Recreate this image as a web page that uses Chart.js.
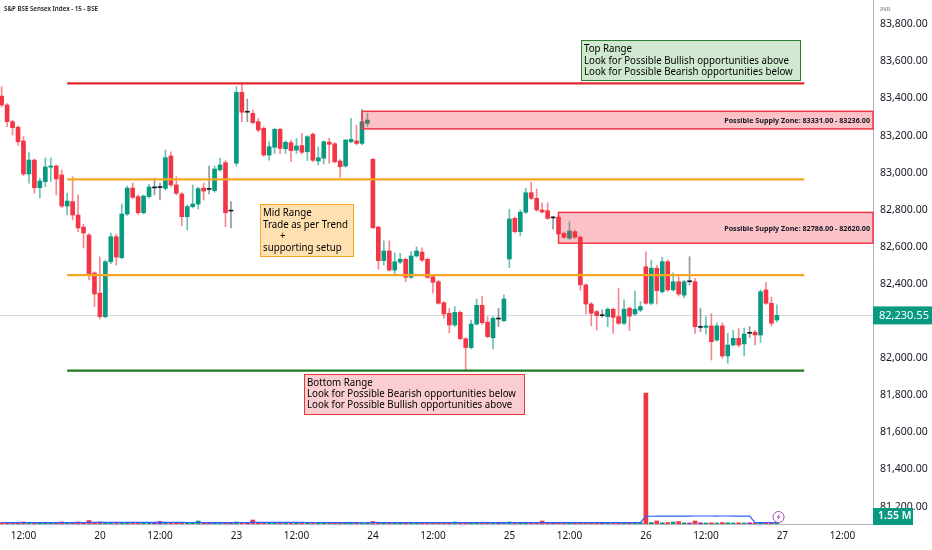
<!DOCTYPE html>
<html>
<head>
<meta charset="utf-8">
<script src="https://cdn.jsdelivr.net/npm/chart.js@4.4.1/dist/chart.umd.min.js"></script>
<style>
  html, body { margin: 0; padding: 0; background: #fff; }
  #wrap { width: 932px; height: 550px; }
</style>
</head>
<body>
<div id="wrap"><canvas id="chart" width="932" height="550"></canvas></div>
<script>
// 15 min bars, bar 0 = 19th 09:15, 25 bars per session
const firstBar = 7;
const opens = [
  83413, 83365, 83275, 83245, 83171, 82993, 83068, 82919, 82952, 83030,
  83036, 82988, 82820, 82844, 82772, 82707, 82664, 82459, 82351, 82224,
  82520, 82655, 82542, 82777, 82917, 82871, 82784, 82871, 82918, 82920,
  82916, 83090, 82934, 82885, 82763, 82817, 82831, 82917, 82910, 82903,
  83015, 83054, 82793, 83051, 83433, 83326, 83320, 83275, 83239, 83095,
  83137, 83234, 83129, 83162, 83122, 83146, 83113, 83207, 83063, 83078,
  83165, 83156, 83063, 83036, 83167, 83171, 83158, 83266, 83072, 82706,
  82526, 82578, 82475, 82518, 82533, 82436, 82551, 82572, 82533, 82439,
  82412, 82299, 82242, 82179, 82247, 82105, 82057, 82184, 82285, 82194,
  82110, 82211, 82202, 82535, 82754, 82682, 82787, 82892, 82862, 82799,
  82795, 82756, 82760, 82673, 82646, 82682, 82652, 82395, 82292, 82251,
  82229, 82224, 82264, 82224, 82188, 82269, 82238, 82259, 82493, 82296,
  82485, 82358, 82520, 82368, 82412, 82340, 82412, 82412, 82166, 82166,
  82174, 82098, 82174, 82012, 82071, 82107, 82077, 82134, 82140, 82125,
  82368, 82296, 82206
];
const highs = [
  83463, 83372, 83282, 83252, 83194, 83108, 83074, 82971, 83079, 83079,
  83042, 83015, 82890, 82978, 82880, 82723, 82672, 82466, 82547, 82529,
  82675, 82670, 82831, 82928, 82944, 82880, 82880, 82939, 82971, 82944,
  83122, 83113, 82978, 82893, 82826, 82934, 82922, 82943, 83036, 83036,
  83079, 83065, 82844, 83464, 83478, 83397, 83338, 83293, 83248, 83167,
  83240, 83240, 83171, 83176, 83185, 83212, 83200, 83215, 83140, 83172,
  83185, 83162, 83070, 83180, 83293, 83257, 83342, 83320, 83078, 82712,
  82633, 82633, 82569, 82565, 82540, 82574, 82601, 82595, 82540, 82445,
  82420, 82305, 82269, 82278, 82255, 82110, 82206, 82318, 82332, 82224,
  82224, 82269, 82341, 82803, 82760, 82799, 82916, 82948, 82912, 82838,
  82838, 82765, 82766, 82680, 82736, 82690, 82660, 82400, 82300, 82258,
  82260, 82272, 82270, 82377, 82314, 82275, 82362, 82305, 82574, 82529,
  82500, 82544, 82530, 82460, 82440, 82420, 82547, 82430, 82270, 82224,
  82240, 82190, 82190, 82134, 82150, 82160, 82162, 82170, 82150, 82368,
  82409, 82330, 82287
];
const lows = [
  83355, 83248, 83203, 83149, 82985, 82944, 82890, 82864, 82925, 82952,
  82880, 82812, 82772, 82745, 82682, 82594, 82422, 82278, 82211, 82216,
  82510, 82502, 82535, 82770, 82860, 82775, 82778, 82862, 82880, 82853,
  82905, 82925, 82880, 82713, 82691, 82810, 82804, 82853, 82885, 82895,
  83008, 82709, 82702, 83036, 83275, 83275, 83262, 83220, 83088, 83068,
  83104, 83101, 83104, 83059, 83104, 83100, 83065, 83060, 83041, 83047,
  83051, 83052, 82975, 83030, 83160, 83150, 83150, 83248, 82700, 82479,
  82502, 82470, 82454, 82510, 82412, 82430, 82545, 82520, 82430, 82350,
  82290, 82215, 82137, 82170, 82098, 81936, 82050, 82178, 82182, 82110,
  82050, 82170, 82195, 82488, 82675, 82659, 82780, 82855, 82792, 82782,
  82748, 82695, 82664, 82645, 82640, 82645, 82366, 82238, 82174, 82152,
  82220, 82170, 82134, 82182, 82180, 82148, 82232, 82250, 82290, 82288,
  82292, 82350, 82360, 82362, 82335, 82325, 82395, 82134, 82143, 82130,
  81990, 82092, 82000, 81973, 82065, 82060, 82012, 82110, 82071, 82085,
  82290, 82174, 82195
];
const closes = [
  83365, 83275, 83243, 83167, 82993, 83068, 82919, 82955, 83031, 83036,
  82966, 82820, 82847, 82772, 82702, 82675, 82454, 82346, 82224, 82520,
  82655, 82545, 82777, 82917, 82867, 82784, 82874, 82923, 82918, 82920,
  83081, 82934, 82889, 82763, 82817, 82831, 82914, 82901, 82910, 83020,
  83042, 82784, 82793, 83433, 83326, 83326, 83270, 83230, 83095, 83140,
  83234, 83131, 83164, 83119, 83144, 83110, 83194, 83067, 83081, 83167,
  83153, 83059, 83032, 83176, 83180, 83158, 83275, 83284, 82703, 82526,
  82578, 82475, 82520, 82534, 82436, 82551, 82578, 82529, 82436, 82409,
  82296, 82238, 82179, 82247, 82105, 82057, 82184, 82285, 82191, 82116,
  82215, 82211, 82319, 82750, 82682, 82787, 82892, 82862, 82799, 82788,
  82754, 82756, 82670, 82652, 82686, 82652, 82395, 82292, 82242, 82229,
  82229, 82264, 82220, 82188, 82264, 82227, 82264, 82278, 82296, 82485,
  82364, 82520, 82368, 82412, 82346, 82412, 82412, 82170, 82166, 82174,
  82089, 82174, 82012, 82071, 82107, 82071, 82130, 82134, 82125, 82358,
  82296, 82188, 82231
];
// volume, in the hidden volume axis units
const volumes = [
  1.5, 1.2, 1.5, 1.2, 2, 1.5, 1.2, 1.5, 1.2, 1,
  1.5, 2, 1.2, 1.5, 2, 1.5, 3.5, 1.5, 2, 1.5,
  1.2, 1.5, 1.2, 1.5, 1.2, 1, 1.2, 1.5, 1.2, 2.5,
  1.5, 1.2, 1.5, 1.2, 1, 1.5, 3, 1.5, 1.2, 1.5,
  1.2, 1.5, 1.2, 2, 1.5, 1.5, 4, 1.5, 1.2, 1.5,
  1.2, 1, 1.5, 1.2, 1.5, 1.2, 1, 1.2, 1.5, 1.2,
  1, 1.2, 1.5, 1.2, 1, 1.5, 1.2, 1.5, 2.5, 1.5,
  1.2, 1.5, 1.2, 1, 1.5, 1.2, 1.5, 1.2, 1, 1.5,
  1.2, 1.5, 1.2, 2, 1.5, 1.2, 1, 1.2, 1.5, 1.2,
  1.5, 1.2, 1, 2, 1.5, 1.2, 1.5, 1.2, 1.5, 3,
  1.2, 1.5, 1.2, 1, 1.5, 1.2, 1.5, 1.2, 1, 1.2,
  1.5, 1.2, 1, 1.2, 1.5, 1.2, 1, 1.2, 131, 1.5,
  3, 1.2, 1.5, 2, 2.5, 1.2, 1, 3, 1.2, 1,
  1.2, 1, 1.5, 1.2, 1, 1.2, 1, 1.2, 1, 1.5,
  1.2, 1, 1.5
];

const tickBars = [11, 25, 36, 50, 61, 75, 86, 100, 111, 125, 136, 150, 161];
const tickLabels = ['12:00', '20', '12:00', '23', '12:00', '24', '12:00', '25', '12:00', '26', '12:00', '27', '12:00'];
const priceTicks = [81200, 81400, 81600, 81800, 82000, 82200, 82400, 82600, 82800, 83000, 83200, 83400, 83600, 83800];

const rangeLevels = [83482, 82964, 82448, 81933];
const supplyZones = [[83331, 83236], [82786, 82620]];
const lastPrice = 82230.55;
const lastVolume = '1.55 M';

const topNote = ['Top Range', 'Look for Possible Bullish opportunities above', 'Look for Possible Bearish opportunities below'];
const midNote = ['Mid Range', 'Trade as per Trend', '+', 'supporting setup'];
const bottomNote = ['Bottom Range', 'Look for Possible Bearish opportunities below', 'Look for Possible Bullish opportunities above'];

// ---- styles / placement ----
const UP = '#089981', DOWN = '#f23645', FLAT = '#131722';
const FONT = '"Noto Sans", "Liberation Sans", sans-serif';
const rangeStyle = [
  { color: '#e0282e' }, { color: '#f5a623' }, { color: '#f5a623' }, { color: '#1f7a1f' }
];
const rangeFrom = 19, rangeTo = 154;
const zoneFrom = [73, 109];
const notes = [
  { lines: topNote, b0: 113.2, b1: 153.3, p0: 83715, p1: 83500, fill: '#cfe8cf', stroke: '#2e7d32', fit: 1, width: 205, size: 11.5, gap: 11.6 },
  { lines: midNote, b0: 54.4, b1: 71.4, p0: 82830, p1: 82553, fill: '#ffe0b0', stroke: '#f5a623', fit: 1, width: 85, size: 11.5, gap: 11.5, indent: [0, 0, 17, 0] },
  { lines: bottomNote, b0: 62.3, b1: 102.6, p0: 81915, p1: 81697, fill: '#f9cdd1', stroke: '#e53935', fit: 1, width: 209, size: 11, gap: 11 }
];

const bars = opens.map((o, k) => firstBar + k);
const candleColor = opens.map((o, k) => closes[k] > o ? UP : closes[k] < o ? DOWN : FLAT);
const wickColor = candleColor.map(c => c === UP ? 'rgba(8,153,129,0.6)' : c === DOWN ? 'rgba(242,54,69,0.6)' : 'rgba(19,23,34,0.45)');
const volColor = candleColor.map(c => c === DOWN ? DOWN : c === UP ? UP : '#9c27b0');

// 20 bar volume average
const volumeAverage = volumes.map((v, k) => {
  const win = volumes.slice(Math.max(0, k - 19), k + 1);
  return win.reduce((s, n) => s + n, 0) / win.length;
});

function fitFont(ctx, text, width, weight) {
  ctx.font = weight + ' 10px ' + FONT;
  const size = 10 * width / ctx.measureText(text).width;
  return weight + ' ' + size.toFixed(2) + 'px ' + FONT;
}

const fmt = v => v.toLocaleString('en-US', { minimumFractionDigits: 2, maximumFractionDigits: 2 });

const overlays = {
  id: 'overlays',
  beforeDatasetsDraw(chart) {
    const { ctx, chartArea: a, scales: { y } } = chart;
    const py = Math.round(y.getPixelForValue(lastPrice)) + 0.5;
    ctx.save();
    ctx.strokeStyle = 'rgba(120,150,165,0.35)';
    ctx.lineWidth = 1;
    ctx.beginPath();
    ctx.moveTo(a.left, py);
    ctx.lineTo(a.right, py);
    ctx.stroke();
    ctx.restore();
  },
  afterDatasetsDraw(chart) {
    const { ctx, chartArea: a, scales: { x, y } } = chart;
    const X = b => x.getPixelForValue(b);
    const Y = p => y.getPixelForValue(p);
    ctx.save();

    // supply zones
    supplyZones.forEach((z, k) => {
      const x0 = X(zoneFrom[k]), y0 = Y(z[0]), y1 = Y(z[1]);
      ctx.fillStyle = 'rgba(242,54,69,0.3)';
      ctx.fillRect(x0, y0, a.right - x0, y1 - y0);
      ctx.strokeStyle = '#f23645';
      ctx.lineWidth = 1.5;
      ctx.strokeRect(x0, y0, a.right - x0, y1 - y0);
      const label = 'Possible Supply Zone: ' + z[0].toFixed(2) + ' - ' + z[1].toFixed(2);
      ctx.font = fitFont(ctx, label, 146, 'bold');
      ctx.fillStyle = '#131722';
      ctx.textAlign = 'right';
      ctx.textBaseline = 'middle';
      ctx.fillText(label, a.right - 3, (y0 + y1) / 2 + 1);
    });

    // range lines
    rangeLevels.forEach((p, k) => {
      const py = Y(p);
      ctx.strokeStyle = rangeStyle[k].color;
      ctx.lineWidth = 2.2;
      ctx.beginPath();
      ctx.moveTo(X(rangeFrom), py);
      ctx.lineTo(X(rangeTo), py);
      ctx.stroke();
    });

    // note boxes, text squeezed to the reference width
    notes.forEach(n => {
      const x0 = Math.round(X(n.b0)) + 0.5, x1 = Math.round(X(n.b1)) + 0.5;
      const y0 = Math.round(Y(n.p0)) + 0.5, y1 = Math.round(Y(n.p1)) + 0.5;
      ctx.fillStyle = n.fill;
      ctx.fillRect(x0, y0, x1 - x0, y1 - y0);
      ctx.strokeStyle = n.stroke;
      ctx.lineWidth = 1;
      ctx.strokeRect(x0, y0, x1 - x0, y1 - y0);
      ctx.font = n.size + 'px ' + FONT;
      const sx = n.width / ctx.measureText(n.lines[n.fit]).width;
      ctx.fillStyle = '#000';
      ctx.textAlign = 'left';
      ctx.textBaseline = 'middle';
      n.lines.forEach((t, i) => {
        const ind = n.indent ? n.indent[i] : 0;
        ctx.save();
        ctx.translate(x0 + 2.5 + ind, y0 + 8.5 + i * n.gap);
        ctx.scale(sx, 1);
        ctx.fillText(t, 0, 0);
        ctx.restore();
      });
    });
    ctx.restore();
  },
  afterDraw(chart) {
    const { ctx, chartArea: a, scales: { x, y } } = chart;
    const W = chart.width;
    ctx.save();
    // title
    const title = 'S&P BSE Sensex Index - 15 - BSE';
    ctx.font = fitFont(ctx, title, 94, '600');
    ctx.fillStyle = '#131722';
    ctx.textAlign = 'left';
    ctx.textBaseline = 'middle';
    ctx.fillText(title, 4, 9);
    // currency
    ctx.font = '6px ' + FONT;
    ctx.fillStyle = '#787b86';
    ctx.fillText('INR', a.right + 7, 9);

    // last price tag
    const py = y.getPixelForValue(lastPrice);
    ctx.fillStyle = UP;
    ctx.fillRect(a.right, py - 9, W - a.right, 18);
    ctx.fillStyle = '#fff';
    ctx.font = '11px ' + FONT;
    ctx.fillText(fmt(lastPrice), a.right + 6, py + 0.5);

    // volume tag
    ctx.fillStyle = UP;
    ctx.fillRect(a.right, a.bottom - 16, 40, 17);
    ctx.fillStyle = '#fff';
    ctx.font = '600 10.5px ' + FONT;
    ctx.fillText(lastVolume, a.right + 5, a.bottom - 7.5);

    // dividend marker
    const mx = x.getPixelForValue(149.3), my = a.bottom - 7;
    ctx.strokeStyle = '#ab47bc';
    ctx.fillStyle = '#fff';
    ctx.lineWidth = 1;
    ctx.beginPath();
    ctx.arc(mx, my, 5.5, 0, Math.PI * 2);
    ctx.fill();
    ctx.stroke();
    ctx.fillStyle = '#ab47bc';
    ctx.beginPath();
    ctx.moveTo(mx + 1.2, my - 3.6);
    ctx.lineTo(mx - 1.8, my + 0.6);
    ctx.lineTo(mx - 0.1, my + 0.6);
    ctx.lineTo(mx - 1.2, my + 3.6);
    ctx.lineTo(mx + 1.8, my - 0.6);
    ctx.lineTo(mx + 0.1, my - 0.6);
    ctx.closePath();
    ctx.fill();
    ctx.restore();
  }
};

new Chart(document.getElementById('chart'), {
  type: 'bar',
  data: {
    datasets: [
      {
        label: 'Volume',
        yAxisID: 'yv',
        order: 4,
        grouped: false,
        barThickness: 4,
        data: bars.map((b, k) => ({ x: b, y: volumes[k] })),
        backgroundColor: volColor
      },
      {
        type: 'line',
        label: 'Volume MA',
        yAxisID: 'yv',
        order: 3,
        data: bars.map((b, k) => ({ x: b, y: volumeAverage[k] })),
        borderColor: '#2962ff',
        borderWidth: 1.2,
        pointRadius: 0,
        tension: 0
      },
      {
        label: 'Wick',
        order: 2,
        grouped: false,
        barThickness: 1,
        data: bars.map((b, k) => ({ x: b, y: [lows[k], highs[k]] })),
        backgroundColor: wickColor
      },
      {
        label: 'Body',
        order: 1,
        grouped: false,
        barThickness: 4,
        minBarLength: 1,
        data: bars.map((b, k) => ({ x: b, y: [opens[k], closes[k]] })),
        backgroundColor: candleColor
      }
    ]
  },
  options: {
    responsive: false,
    animation: false,
    layout: { padding: 0 },
    plugins: { legend: { display: false }, tooltip: { enabled: false } },
    scales: {
      x: {
        type: 'linear',
        min: 6.7,
        max: 166.6,
        offset: false,
        grid: { display: false, drawTicks: false, offset: false },
        border: { display: true, color: '#b2b5be' },
        afterBuildTicks: s => { s.ticks = tickBars.map(v => ({ value: v })); },
        afterFit: s => { s.height = 26; s.paddingLeft = 0; s.paddingRight = 0; },
        ticks: {
          autoSkip: false,
          maxRotation: 0,
          padding: 6,
          color: '#131722',
          font: { size: 10, family: FONT },
          callback: (v, i) => tickLabels[i]
        }
      },
      y: {
        type: 'linear',
        position: 'right',
        min: 81106,
        max: 83931,
        beginAtZero: false,
        grid: { display: false, drawTicks: false },
        border: { display: true, color: '#b2b5be' },
        afterBuildTicks: s => { s.ticks = priceTicks.map(v => ({ value: v })); },
        afterFit: s => { s.width = 59; s.paddingTop = 0; s.paddingBottom = 0; },
        ticks: {
          autoSkip: false,
          padding: 7,
          color: '#131722',
          font: { size: 10.5, family: FONT },
          callback: v => Math.abs(v - lastPrice) < 60 ? '' : fmt(v)
        }
      },
      yv: {
        type: 'linear',
        display: false,
        min: 0,
        max: 524,
        beginAtZero: true
      }
    }
  },
  plugins: [overlays]
});
</script>
</body>
</html>
